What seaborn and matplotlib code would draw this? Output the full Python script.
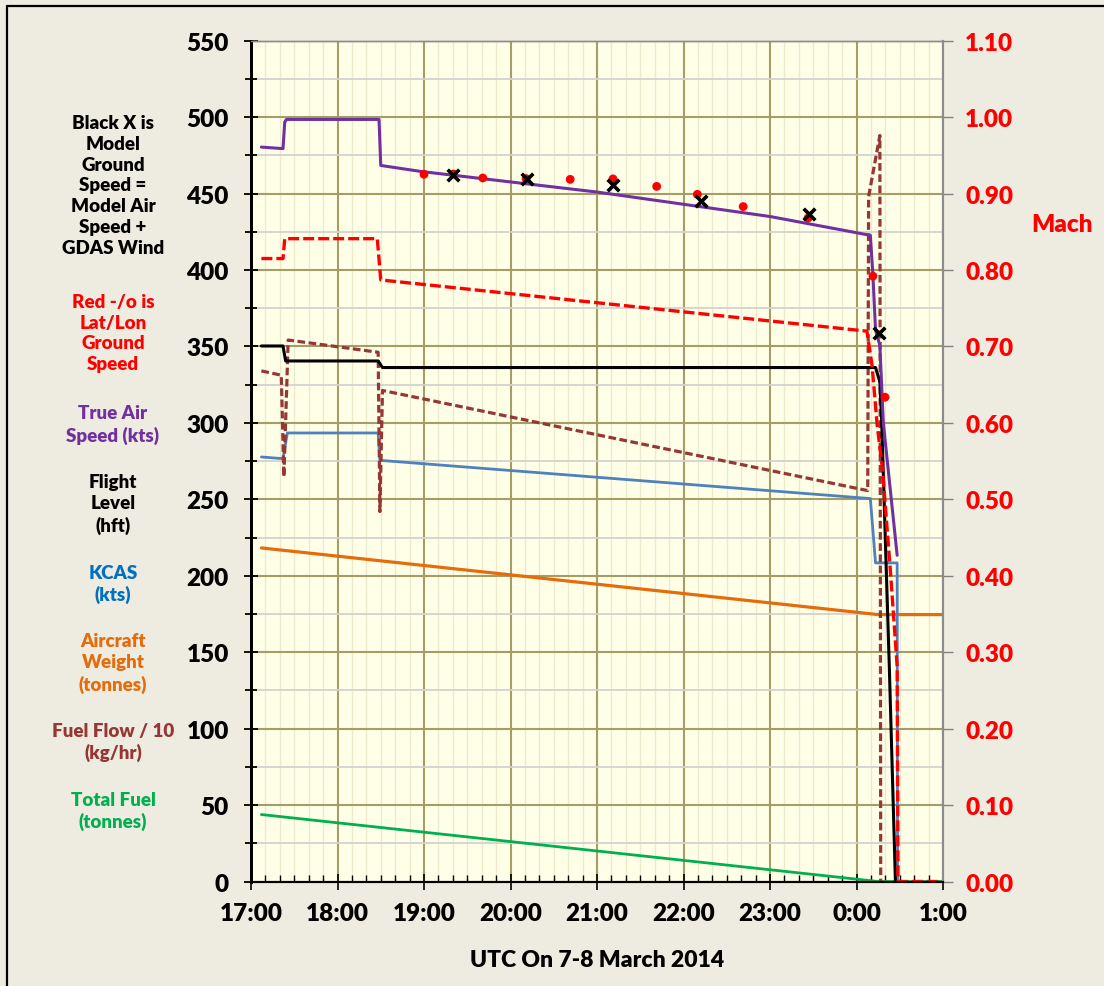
import numpy as np
import pandas as pd
import matplotlib
matplotlib.use("Agg")
import matplotlib.pyplot as plt
import seaborn as sns
from matplotlib.ticker import MultipleLocator
from matplotlib.lines import Line2D

# ---------------- data (time = hours after 17:00 UTC, 7 March 2014) ----------------
hour_labels = ["17:00", "18:00", "19:00", "20:00", "21:00", "22:00", "23:00", "0:00", "1:00"]

tas_t = [0.12, 0.37, 0.39, 0.41, 1.48, 1.50, 1.96, 4.00, 6.00, 7.16, 7.19, 7.22, 7.27, 7.31, 7.47]
tas_v = [480.4, 479.4, 496.8, 498.5, 498.5, 468.4, 464.5, 451.0, 435.0, 422.7, 396.5, 360.6, 350.8, 300.0, 213.4]

mach_t = [0.12, 0.37, 0.39, 1.46, 1.50, 7.12, 7.18, 7.24, 7.30, 7.39, 7.47, 7.48, 8.00]
mach_v = [0.815, 0.815, 0.841, 0.841, 0.787, 0.720, 0.675, 0.596, 0.540, 0.409, 0.282, 0.0, 0.0]

fl_t = [0.12, 0.37, 0.40, 1.47, 1.52, 7.22, 7.27, 7.29, 7.38, 7.45]
fl_v = [350.3, 350.3, 340.5, 340.5, 336.2, 336.2, 326.8, 302.8, 139.0, 0.0]

kcas_t = [0.12, 0.37, 0.42, 1.47, 1.49, 7.16, 7.22, 7.47, 7.475]
kcas_v = [277.7, 276.6, 293.4, 293.4, 275.5, 250.5, 208.4, 208.4, 0.0]

weight_t = [0.12, 7.25, 8.00]
weight_v = [218.2, 174.6, 174.6]

ff_t = [0.12, 0.35, 0.38, 0.43, 1.47, 1.49, 1.52, 7.13, 7.14, 7.27, 7.28]
ff_v = [334.0, 331.2, 264.7, 354.2, 346.2, 242.0, 321.2, 255.7, 448.0, 488.0, 0.0]

fuel_t = [0.12, 7.25, 8.00]
fuel_v = [43.8, 0.0, 0.0]

gs_t = [2.00, 2.34, 2.68, 3.18, 3.69, 4.185, 4.69, 5.16, 5.69, 6.44, 7.19, 7.33]
gs_v = [462.6, 462.8, 460.2, 459.8, 459.3, 459.6, 454.7, 449.5, 441.5, 434.0, 396.0, 316.8]

model_t = [2.34, 3.19, 4.19, 5.20, 6.45, 7.26]
model_v = [462.4, 459.8, 455.9, 445.4, 436.4, 358.8]

left_labels = [
    ("Black X is\nModel\nGround\nSpeed =\nModel Air\nSpeed +\nGDAS Wind", "black", 186),
    ("Red -/o is\nLat/Lon\nGround\nSpeed", "#FF0000", 333.5),
    ("True Air\nSpeed (kts)", "#7030A0", 425),
    ("Flight\nLevel\n(hft)", "black", 504.5),
    ("KCAS\n(kts)", "#0070C0", 584.5),
    ("Aircraft\nWeight\n(tonnes)", "#E46C0A", 663.5),
    ("Fuel Flow / 10\n(kg/hr)", "#953735", 742.5),
    ("Total Fuel\n(tonnes)", "#00B050", 811.5),
]

# ---------------- style ----------------
sns.set_style("white")
plt.rcParams["font.family"] = ["Lato", "DejaVu Sans"]
plt.rcParams["font.weight"] = "bold"
plt.rcParams["text.color"] = "black"

W, H = 1104, 987
fig = plt.figure(figsize=(W / 100, H / 100), dpi=100, facecolor="#EEEBE1")
x0, x1, y0, y1 = 251, 943, 882.5, 41.7
ax = fig.add_axes([x0 / W, 1 - y0 / H, (x1 - x0) / W, (y0 - y1) / H])
ax.set_facecolor("#FFFFE8")
ax2 = ax.twinx()

def df(t, v):
    return pd.DataFrame({"t": t, "v": v})

common = dict(sort=False, estimator=None, legend=False)
sns.lineplot(data=df(fuel_t, fuel_v), x="t", y="v", ax=ax, color="#00B050", lw=2.0, **common)
sns.lineplot(data=df(weight_t, weight_v), x="t", y="v", ax=ax, color="#E46C0A", lw=2.3, **common)
sns.lineplot(data=df(kcas_t, kcas_v), x="t", y="v", ax=ax, color="#4F81BD", lw=2.0, **common)
sns.lineplot(data=df(ff_t, ff_v), x="t", y="v", ax=ax, color="#953735", lw=2.3,
             linestyle=(0, (2.4, 1.1)), **common)
sns.lineplot(data=df(fl_t, fl_v), x="t", y="v", ax=ax, color="black", lw=2.2, **common)
sns.lineplot(data=df(tas_t, tas_v), x="t", y="v", ax=ax, color="#7030A0", lw=2.2, **common)
sns.scatterplot(data=df(gs_t, gs_v), x="t", y="v", ax=ax, color="#FF0000", s=40,
                edgecolor="none", zorder=5, legend=False)
sns.scatterplot(data=df(model_t, model_v), x="t", y="v", ax=ax, color="black", marker="x",
                s=70, linewidth=2.6, zorder=6, legend=False)
sns.lineplot(data=df(mach_t, mach_v), x="t", y="v", ax=ax2, color="#FF0000", lw=2.4,
             linestyle=(0, (3.3, 1.2)), **common)

# ---------------- axes ----------------
ax.set_xlim(0, 8)
ax.set_ylim(0, 550)
ax.set_xlabel("")
ax.set_ylabel("")
ax2.set_ylabel("")

ax.set_xticks(range(9))
ax.set_xticklabels(hour_labels)
ax.xaxis.set_minor_locator(MultipleLocator(1 / 6))
ax.yaxis.set_major_locator(MultipleLocator(50))
ax.yaxis.set_minor_locator(MultipleLocator(25))
mach_ticks = np.round(np.arange(0, 1.101, 0.1), 2)
ax2.set_yticks(mach_ticks)
ax2.set_yticklabels([f"{v:.2f}" for v in mach_ticks])
ax2.set_ylim(0, 1.1)

ax.set_axisbelow(True)
ax.grid(which="major", color="#A59D66", lw=1.5)
ax.grid(which="minor", axis="y", color="#D3D3CF", lw=1.3)
ax.grid(which="minor", axis="x", color="#ECE9CC", lw=1.0)
ax2.grid(False)

TS = 17.5
ax.tick_params(axis="y", which="major", direction="inout", length=10, width=1.3, color="black",
               labelsize=TS, labelcolor="black", pad=11, left=True)
ax.tick_params(axis="y", which="minor", direction="inout", length=9, width=1.3, color="black", left=True)
ax.tick_params(axis="x", which="major", direction="inout", length=12, width=1.2, color="black",
               labelsize=TS, labelcolor="black", pad=9, bottom=True)
ax.tick_params(axis="x", which="minor", direction="in", length=5, width=1.0, color="black", bottom=True)
ax2.tick_params(axis="y", which="major", direction="out", length=7, width=1.0, color="#808080",
                labelsize=TS, labelcolor="#FF0000", pad=9, right=True)
for lab in ax.get_xticklabels() + ax.get_yticklabels() + ax2.get_yticklabels():
    lab.set_fontweight("heavy")

for a in (ax, ax2):
    a.spines["left"].set_color("black")
    a.spines["left"].set_linewidth(2.0)
    a.spines["bottom"].set_color("black")
    a.spines["bottom"].set_linewidth(1.5)
    a.spines["top"].set_color("#8C8C8C")
    a.spines["top"].set_linewidth(1.0)
    a.spines["right"].set_color("#8C8C8C")
    a.spines["right"].set_linewidth(1.5)

# ---------------- texts ----------------
fig.text(597 / W, 1 - 961 / H, "UTC On 7-8 March 2014", ha="center", va="center",
         fontsize=16.5, fontweight="heavy", color="black")
fig.text(1062 / W, 1 - 225 / H, "Mach", ha="center", va="center",
         fontsize=17.5, fontweight="heavy", color="#FF0000")
for txt, col, yc in left_labels:
    fig.text(113 / W, 1 - yc / H, txt, ha="center", va="center", fontsize=13.5,
             fontweight="heavy", color=col, linespacing=1.28)

# outer border (left and top)
fig.add_artist(Line2D([7 / W, 7 / W], [0, 1 - 7 / H], transform=fig.transFigure, color="black", lw=1.6))
fig.add_artist(Line2D([7 / W, 1.0], [1 - 7 / H, 1 - 7 / H], transform=fig.transFigure, color="black", lw=1.6))

fig.savefig("out.png", dpi=100, facecolor=fig.get_facecolor())
